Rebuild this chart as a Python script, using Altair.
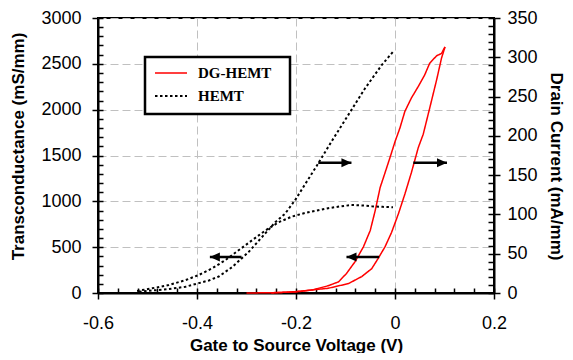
import altair as alt
import pandas as pd

devices = ["DG-HEMT", "HEMT"]
line_colors = ["#ff0000", "#000000"]
line_dashes = [[1, 0], [2.5, 2.5]]
line_widths = [1.5, 2]

# Transconductance (left axis, mS/mm)
dg_gm_vgs = [-0.300, -0.250, -0.200, -0.168, -0.135, -0.114, -0.098, -0.081, -0.064, -0.050,
             -0.040, -0.030, -0.020, -0.008, 0.000, 0.010, 0.020, 0.033, 0.047, 0.060,
             0.070, 0.084, 0.094, 0.101]
dg_gm = [0, 3, 12, 32, 79, 122, 213, 339, 501, 682,
         899, 1151, 1314, 1513, 1650, 1801, 1982, 2126, 2253, 2379,
         2505, 2588, 2613, 2686]
hemt_gm_vgs = [-0.521, -0.491, -0.457, -0.423, -0.397, -0.370, -0.343, -0.316, -0.289, -0.262,
               -0.235, -0.208, -0.181, -0.155, -0.135, -0.110, -0.088, -0.065, -0.047, -0.025,
               -0.004]
hemt_gm = [22, 51, 87, 141, 195, 267, 357, 466, 574, 682,
           772, 834, 874, 902, 925, 945, 960, 955, 946, 940,
           935]

# Drain current (right axis, mA/mm)
dg_id_vgs = [-0.250, -0.202, -0.135, -0.094, -0.067, -0.047, -0.034, -0.020, -0.007, 0.007,
             0.020, 0.033, 0.047, 0.057, 0.070, 0.084, 0.094, 0.101]
dg_id = [0, 1.7, 6, 12, 21, 31, 44, 59, 77, 101,
         126, 153, 185, 202, 235, 271, 299, 313]
hemt_id_vgs = [-0.517, -0.457, -0.423, -0.376, -0.356, -0.329, -0.296, -0.269, -0.242, -0.222,
               -0.202, -0.181, -0.158, -0.128, -0.094, -0.061, -0.027, -0.004]
hemt_id = [1.7, 5, 8, 16, 21, 33, 52, 71, 90, 101,
           118, 139, 162, 193, 227, 260, 290, 307]

x_ticks = [-0.6, -0.4, -0.2, 0.0, 0.2]
x_minor = [round(-0.6 + 0.04 * i, 2) for i in range(21)]
gm_ticks = [0, 500, 1000, 1500, 2000, 2500, 3000]
gm_minor = list(range(0, 3001, 100))
id_ticks = [0, 50, 100, 150, 200, 250, 300, 350]
id_minor = list(range(0, 351, 10))

# Arrows pointing at the axis each curve belongs to
arrow_tail = [-0.155, 0.037, -0.310, -0.032]
arrow_tip = [-0.088, 0.105, -0.374, -0.098]
arrow_level = [1422, 1422, 393, 393]
arrow_dir = ["right", "right", "left", "left"]

gm_df = pd.concat([
    pd.DataFrame({"vgs": dg_gm_vgs, "gm": dg_gm, "device": devices[0]}),
    pd.DataFrame({"vgs": hemt_gm_vgs, "gm": hemt_gm, "device": devices[1]}),
])
dg_id_df = pd.DataFrame({"vgs": dg_id_vgs, "id": dg_id, "device": devices[0]})
hemt_id_df = pd.DataFrame({"vgs": hemt_id_vgs, "id": hemt_id, "device": devices[1]})
arrow_df = pd.DataFrame({"tail": arrow_tail, "tip": arrow_tip, "level": arrow_level, "dir": arrow_dir})
legend_df = pd.DataFrame({"device": devices, "row": [0, 1]})

def xs():
    return alt.Scale(domain=[-0.6, 0.2], nice=False, zero=False)

def gms():
    return alt.Scale(domain=[0, 3000], nice=False)

def ids():
    return alt.Scale(domain=[0, 350], nice=False)

color_enc = alt.Color("device:N", scale=alt.Scale(domain=devices, range=line_colors), legend=None)
dash_enc = alt.StrokeDash("device:N", scale=alt.Scale(domain=devices, range=line_dashes), legend=None)
width_enc = alt.StrokeWidth("device:N", scale=alt.Scale(domain=devices, range=line_widths), legend=None)

x_main_axis = alt.Axis(orient="bottom", values=x_ticks,
                       labelExpr="datum.value == 0 ? '0' : toString(round(datum.value*10)/10)",
                       labelFlush=False, labelOverlap=False,
                       tickSize=6, labelPadding=15, title="Gate to Source Voltage (V)",
                       titleY=57, titleBaseline="alphabetic", grid=True)
x_inner_axis = alt.Axis(orient="bottom", values=x_minor, offset=-5, tickSize=5, labels=False,
                        domain=False, grid=False, title=None)
left_main_axis = alt.Axis(orient="left", values=gm_ticks, format="d", tickSize=6, labelPadding=11,
                          labelFlush=False, labelOverlap=False,
                          title="Transconductance (mS/mm)", titlePadding=13, titleY=128, grid=True)
left_inner_axis = alt.Axis(orient="left", values=gm_minor, offset=-5, tickSize=5, labels=False,
                           domain=False, grid=False, title=None)
right_main_axis = alt.Axis(orient="right", values=id_ticks, format="d", tickSize=6, labelPadding=7,
                           labelFlush=False, labelOverlap=False,
                           title="Drain Current (mA/mm)", titlePadding=9, titleY=148, grid=False)
right_inner_axis = alt.Axis(orient="right", values=id_minor, offset=-6, tickSize=6, labels=False,
                            domain=False, grid=False, title=None)

gm_layer = alt.Chart(gm_df).mark_line().encode(
    x=alt.X("vgs:Q", scale=xs(), axis=x_main_axis),
    y=alt.Y("gm:Q", scale=gms(), axis=left_main_axis),
    color=color_enc, strokeDash=dash_enc, strokeWidth=width_enc,
)
dg_id_layer = alt.Chart(dg_id_df).mark_line().encode(
    x=alt.X("vgs:Q", scale=xs(), axis=None),
    y=alt.Y("id:Q", scale=ids(), axis=right_main_axis),
    color=color_enc, strokeDash=dash_enc, strokeWidth=width_enc,
)
hemt_id_layer = alt.Chart(hemt_id_df).mark_line().encode(
    x=alt.X("vgs:Q", scale=xs(), axis=None),
    y=alt.Y("id:Q", scale=ids(), axis=right_inner_axis),
    color=color_enc, strokeDash=dash_enc, strokeWidth=width_enc,
)
arrow_lines = alt.Chart(arrow_df).mark_rule(color="black", strokeWidth=2.5).encode(
    x=alt.X("tail:Q", scale=xs(), axis=x_inner_axis),
    x2="tip:Q",
    y=alt.Y("level:Q", scale=gms(), axis=left_inner_axis),
)
arrow_heads = alt.Chart(arrow_df).mark_point(filled=True, color="black", opacity=1, size=100).encode(
    x=alt.X("tip:Q", scale=xs(), axis=None),
    y=alt.Y("level:Q", scale=gms(), axis=None),
    shape=alt.Shape("dir:N", scale=alt.Scale(domain=["right", "left"],
                                             range=["M0,0L-2,-0.9L-2,0.9Z", "M0,0L2,-0.9L2,0.9Z"]),
                    legend=None),
)

legend_y = alt.Y("row:Q", scale=alt.Scale(domain=[0, 1], range=[55, 78]), axis=None)
legend_box = alt.Chart(legend_df.head(1)).mark_rect(fill="white", stroke="black", strokeWidth=2.5).encode(
    x=alt.value(47), x2=alt.value(192), y=alt.value(39), y2=alt.value(96),
)
legend_lines = alt.Chart(legend_df).mark_rule().encode(
    x=alt.value(57), x2=alt.value(89), y=legend_y,
    color=color_enc, strokeDash=dash_enc, strokeWidth=width_enc,
)
legend_text = alt.Chart(legend_df).mark_text(
    align="left", baseline="middle", font="Liberation Serif", fontWeight="bold", fontSize=15, color="black"
).encode(x=alt.value(100), y=legend_y, text="device:N")

chart = alt.layer(
    gm_layer, dg_id_layer, hemt_id_layer, arrow_lines, arrow_heads,
    legend_box, legend_lines, legend_text,
).resolve_scale(
    x="independent", y="independent"
).properties(
    width=396, height=275,
    autosize=alt.AutoSizeParams(type="none"),
    padding={"left": 90, "top": 10, "right": 71, "bottom": 60},
    background="white",
).configure_view(
    stroke="black", strokeWidth=2,
).configure_axis(
    labelFont="Liberation Sans", labelFontSize=18, labelColor="black",
    titleFont="Liberation Sans", titleFontSize=17, titleFontWeight="bold", titleColor="black",
    domainColor="black", domainWidth=2, tickColor="black", tickWidth=1.5,
    gridColor="#c0c0c0", gridDash=[8, 4], gridWidth=1,
)

chart.save("out.html", embed_options={"renderer": "svg", "actions": False})
